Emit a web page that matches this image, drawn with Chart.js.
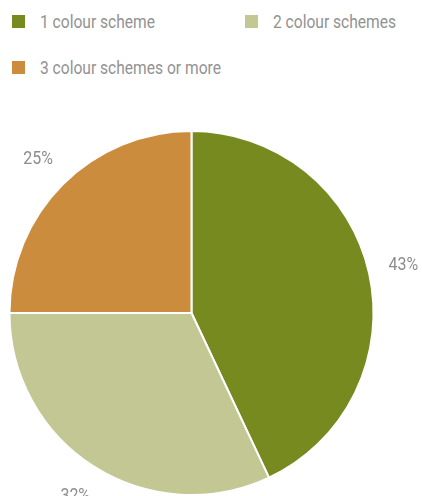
<!DOCTYPE html>
<html>
<head>
<meta charset="utf-8">
<script src="https://cdn.jsdelivr.net/npm/chart.js@4"></script>
<style>
  html, body { margin: 0; padding: 0; background: #fff; }
  #wrap { position: relative; width: 422px; height: 496px; overflow: hidden; }
  #legend { position: absolute; left: 12px; top: 9px; width: 410px; display: grid;
    grid-template-columns: 233px 170px; row-gap: 22px;
    font-family: "Roboto", sans-serif;
    font-size: 19px; color: #929292; }
  .item { display: flex; align-items: center; height: 24px; white-space: nowrap; }
  .box { width: 13px; height: 13px; margin-right: 15px; flex: none; }
  .txt { display: inline-block; transform: scaleX(0.82); transform-origin: left center; }
  canvas { position: absolute; left: 0; top: 0; }
</style>
</head>
<body>
<div id="wrap">
  <div id="legend"></div>
  <canvas id="c" width="422" height="496"></canvas>
</div>
<script>
const categories = ["1 colour scheme", "2 colour schemes", "3 colour schemes or more"];
const values = [43, 32, 25];
const colors = ["#768a1f", "#c3c794", "#cc8c3e"];

const legend = document.getElementById('legend');
categories.forEach((name, i) => {
  const d = document.createElement('div');
  d.className = 'item';
  const b = document.createElement('span');
  b.className = 'box';
  b.style.background = colors[i];
  const t = document.createElement('span');
  t.className = 'txt';
  t.textContent = name;
  d.appendChild(b); d.appendChild(t);
  legend.appendChild(d);
});

const outsideLabels = {
  id: 'outsideLabels',
  afterDatasetsDraw(chart) {
    const ctx = chart.ctx;
    const meta = chart.getDatasetMeta(0);
    meta.data.forEach((arc, i) => {
      const p = arc.getProps(['x', 'y', 'startAngle', 'endAngle', 'outerRadius'], true);
      const mid = (p.startAngle + p.endAngle) / 2;
      const r = p.outerRadius + 35;
      const lx = p.x + Math.cos(mid) * r;
      const ly = p.y + Math.sin(mid) * r;
      ctx.save();
      ctx.font = '19px Roboto, sans-serif';
      ctx.fillStyle = '#8c8c8c';
      ctx.textAlign = 'center';
      ctx.textBaseline = 'middle';
      ctx.translate(lx, ly);
      ctx.scale(0.84, 1);
      ctx.fillText(values[i] + '%', 0, 0);
      ctx.restore();
    });
  }
};

new Chart(document.getElementById('c'), {
  type: 'pie',
  data: {
    labels: categories,
    datasets: [{
      data: values,
      backgroundColor: colors,
      borderColor: '#ffffff',
      borderWidth: 2
    }]
  },
  options: {
    responsive: false,
    animation: false,
    layout: { padding: { left: 8, top: 130, right: 47, bottom: 0 } },
    plugins: { legend: { display: false }, tooltip: { enabled: false } }
  },
  plugins: [outsideLabels]
});
</script>
</body>
</html>
